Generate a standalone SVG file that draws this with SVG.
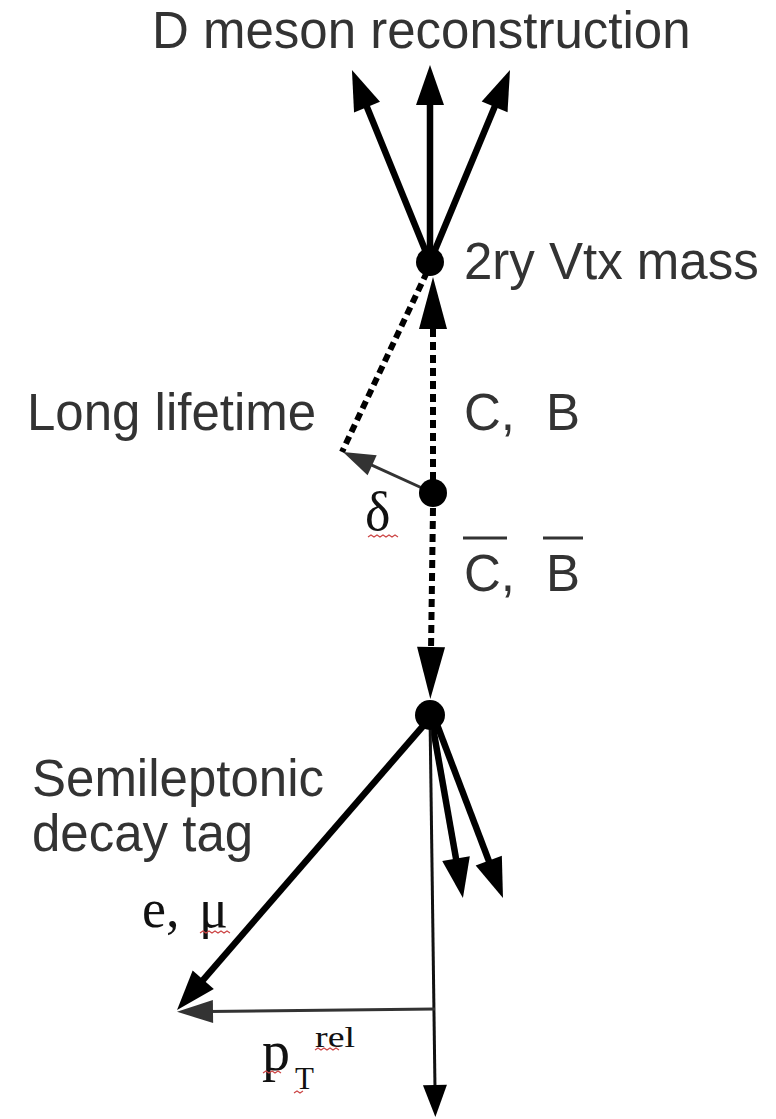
<svg xmlns="http://www.w3.org/2000/svg" width="776" height="1119" viewBox="0 0 776 1119">
<style>
.sans{font-family:"Liberation Sans",Arial,sans-serif;font-size:51px;fill:#333}
.serif{font-family:"Liberation Serif","Times New Roman",serif;fill:#111}
.thick{stroke:#000;stroke-width:6.5;fill:none}
.dash{stroke:#000;stroke-width:6;fill:none;stroke-dasharray:8 5}
.thin{stroke:#333;stroke-width:3;fill:none}
.thinb{stroke:#111;stroke-width:3;fill:none}
.dot{fill:#000}
.sq{stroke:#c44;stroke-width:1.2;fill:none}
.bar{stroke:#333;stroke-width:3}
</style>
<defs>
<marker id="ahThick" markerUnits="userSpaceOnUse" viewBox="-1 -15 42 30" markerWidth="42" markerHeight="30" refX="8" refY="0" orient="auto"><path d="M0,-14 L40,0 L0,14 z" fill="#000"/></marker>
<marker id="ahLong" markerUnits="userSpaceOnUse" viewBox="-1 -15 54 30" markerWidth="54" markerHeight="30" refX="4" refY="0" orient="auto"><path d="M0,-14 L52,0 L0,14 z" fill="#000"/></marker>
<marker id="ahThin" markerUnits="userSpaceOnUse" viewBox="-1 -12 34 24" markerWidth="34" markerHeight="24" refX="4" refY="0" orient="auto"><path d="M0,-11 L32,0 L0,11 z" fill="#333"/></marker>
<marker id="ahThinB" markerUnits="userSpaceOnUse" viewBox="-1 -13 34 26" markerWidth="34" markerHeight="26" refX="4" refY="0" orient="auto"><path d="M0,-12 L32,0 L0,12 z" fill="#000"/></marker>
<marker id="ahThinH" markerUnits="userSpaceOnUse" viewBox="-1 -13 38 26" markerWidth="38" markerHeight="26" refX="4" refY="0" orient="auto"><path d="M0,-11.5 L36,0 L0,11.5 z" fill="#333"/></marker>
</defs>
<rect width="776" height="1119" fill="#fff"/>

<g id="connectors">
  <line class="thick" x1="430" y1="262" x2="364" y2="99.7" marker-end="url(#ahThick)"/>
  <line class="thick" x1="430" y1="262" x2="430" y2="97" marker-end="url(#ahThick)"/>
  <line class="thick" x1="430" y1="262" x2="497.7" y2="99.5" marker-end="url(#ahThick)"/>
  <line class="dash" x1="433" y1="480" x2="433" y2="325" marker-end="url(#ahLong)"/>
  <line class="dash" x1="433" y1="508" x2="431" y2="651" marker-end="url(#ahLong)"/>
  <line class="dash" x1="427" y1="272" x2="342" y2="452"/>
  <line class="thin" x1="433" y1="493" x2="368.5" y2="463.6" marker-end="url(#ahThin)"/>
  <line class="thick" x1="430" y1="718" x2="198" y2="985.8" marker-end="url(#ahThick)"/>
  <line class="thick" x1="432" y1="722" x2="457.4" y2="866.5" marker-end="url(#ahThick)"/>
  <line class="thick" x1="436" y1="722" x2="491.6" y2="868.1" marker-end="url(#ahThick)"/>
  <line class="thinb" x1="430" y1="715" x2="435" y2="1089" marker-end="url(#ahThinB)"/>
  <line class="thin" x1="435" y1="1009" x2="209" y2="1011.5" marker-end="url(#ahThinH)"/>
</g>

<g id="vertex-secondary"><circle class="dot" cx="430" cy="262" r="14"/></g>
<g id="vertex-primary"><circle class="dot" cx="433" cy="493" r="14"/></g>
<g id="vertex-semileptonic"><circle class="dot" cx="430" cy="715" r="15"/></g>

<g id="label-title"><text class="sans" x="152" y="48">D meson reconstruction</text></g>
<g id="label-2ry"><text class="sans" x="464" y="279">2ry Vtx mass</text></g>
<g id="label-long"><text class="sans" x="27" y="430">Long lifetime</text></g>
<g id="label-cb"><text class="sans" x="464" y="430">C,<tspan x="546">B</tspan></text></g>
<g id="label-cbbar">
  <text class="sans" x="464" y="591">C,<tspan x="546">B</tspan></text>
  <line class="bar" x1="463" y1="538" x2="507" y2="538"/>
  <line class="bar" x1="543" y1="538" x2="583" y2="538"/>
</g>
<g id="label-semi"><text class="sans" x="32" y="796">Semileptonic</text><text class="sans" x="32" y="851">decay tag</text></g>
<g id="label-delta">
  <text class="serif" x="365" y="530" font-size="54">δ</text>
  <path class="sq" d="M368 537 l3 -2 l3 2 l3 -2 l3 2 l3 -2 l3 2 l3 -2 l3 2 l3 -2 l3 2"/>
</g>
<g id="label-lepton">
  <text class="serif" x="142" y="927" font-size="54">e,<tspan x="199">μ</tspan></text>
  <path class="sq" d="M200 933 l3 -2 l3 2 l3 -2 l3 2 l3 -2 l3 2 l3 -2 l3 2 l3 -2 l3 2"/>
</g>
<g id="label-ptrel">
  <text class="serif" x="262" y="1070" font-size="56">p</text>
  <text class="serif" x="295" y="1089" font-size="31">T</text>
  <text class="serif" x="315" y="1047" font-size="30" textLength="40" lengthAdjust="spacingAndGlyphs">rel</text>
  <path class="sq" d="M263 1073 l3 -2 l3 2 l3 -2 l3 2 l3 -2 l3 2"/>
  <path class="sq" d="M294 1093 l3 -2 l3 2 l3 -2"/>
  <path class="sq" d="M315 1050 l3 -2 l3 2 l3 -2 l3 2 l3 -2 l3 2 l3 -2 l3 2"/>
</g>
</svg>
